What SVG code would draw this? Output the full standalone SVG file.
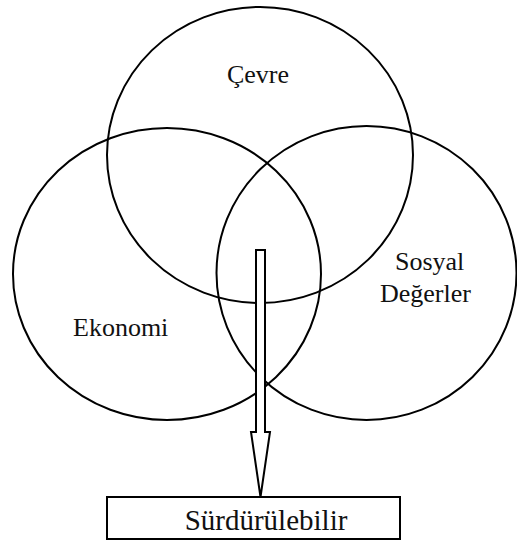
<svg xmlns="http://www.w3.org/2000/svg" width="517" height="543" viewBox="0 0 517 543">
<style>
.c{fill:none;stroke:#000;stroke-width:2}
.t{font-family:"Liberation Serif","Times New Roman",serif;font-size:26px;fill:#111}
.a{fill:#fff;stroke:#000;stroke-width:2;stroke-linejoin:miter}
</style>
<rect width="517" height="543" fill="#fff"/>
<g id="cevre"><ellipse class="c" cx="260" cy="155" rx="153" ry="148"/><text class="t" x="258" y="83" text-anchor="middle">Çevre</text></g>
<g id="ekonomi"><ellipse class="c" cx="167" cy="274" rx="154" ry="146"/><text class="t" x="73" y="336">Ekonomi</text></g>
<g id="sosyal"><ellipse class="c" cx="366.5" cy="273" rx="150" ry="147"/><text class="t" x="395" y="270">Sosyal</text><text class="t" x="380" y="302">Değerler</text></g>
<g id="connectors"><path class="a" d="M256,250 H265 V432 H270 L260.5,497 L251,432 H256 Z"/></g>
<g id="surdurulebilir"><rect x="107" y="497" width="293" height="42" fill="#fff" stroke="#000" stroke-width="2"/><text class="t" x="266" y="530" text-anchor="middle" style="font-size:29px">Sürdürülebilir</text></g>
</svg>
